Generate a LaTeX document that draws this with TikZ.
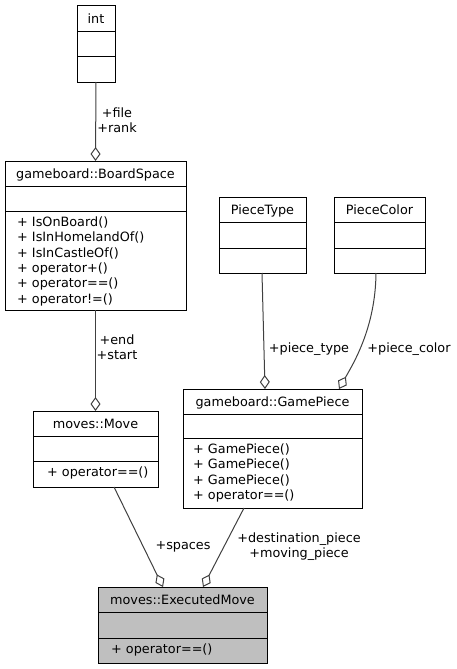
\documentclass[tikz,border=0pt]{standalone}
\usepackage{fontspec}
\setmainfont{DejaVu Sans}
\usetikzlibrary{arrows.meta}
\definecolor{edgegray}{HTML}{404040}
\definecolor{emfill}{HTML}{BFBFBF}
\newcommand\fsz{\fontsize{12.8}{15.3}\selectfont}
\tikzset{
  box/.style={draw=black, line width=1pt, inner sep=0pt, outer sep=0pt, anchor=north west},
  ttl/.style={anchor=base, inner sep=0pt, font=\fsz},
  mth/.style={anchor=base west, inner sep=0pt, font=\fsz},
  lbl/.style={inner sep=0pt, font=\fsz, align=center},
  dv/.style={draw=black, line width=1pt},
  edge/.style={draw=edgegray, line width=1pt, {Diamond[open, length=14pt, width=10pt, line width=1pt]}-}
}
\begin{document}
\begin{tikzpicture}[x=1pt, y=-1pt]
\useasboundingbox (0,0) rectangle (457,669);

% int
\node[box, minimum width=38pt, minimum height=76pt] (int) at (77,6) {};
\draw[dv] ([yshift=-26pt]int.north west) -- ([yshift=-26pt]int.north east);
\draw[dv] ([yshift=-51pt]int.north west) -- ([yshift=-51pt]int.north east);
\node[ttl] (intt) at ([yshift=-17.5pt]int.north) {int};

% BoardSpace
\node[box, minimum width=181pt, minimum height=149pt] (bs) at (5,161) {};
\draw[dv] ([yshift=-25pt]bs.north west) -- ([yshift=-25pt]bs.north east);
\draw[dv] ([yshift=-50pt]bs.north west) -- ([yshift=-50pt]bs.north east);
\node[ttl] (bst) at ([yshift=-17pt]bs.north) {gameboard::BoardSpace};
\foreach \t [count=\i from 0] in {IsOnBoard(), IsInHomelandOf(), IsInCastleOf(), operator+(), operator==(), operator!=()}
  \node[mth] (bsm\i) at ([xshift=12pt, yshift={-65.5pt-15.3pt*\i}]bs.north west) {+ \t};

% PieceType
\node[box, minimum width=87pt, minimum height=76pt] (pt) at (219,197) {};
\draw[dv] ([yshift=-25pt]pt.north west) -- ([yshift=-25pt]pt.north east);
\draw[dv] ([yshift=-51pt]pt.north west) -- ([yshift=-51pt]pt.north east);
\node[ttl] (ptt) at ([yshift=-17pt]pt.north) {PieceType};

% PieceColor
\node[box, minimum width=91pt, minimum height=76pt] (pc) at (334,197) {};
\draw[dv] ([yshift=-25pt]pc.north west) -- ([yshift=-25pt]pc.north east);
\draw[dv] ([yshift=-51pt]pc.north west) -- ([yshift=-51pt]pc.north east);
\node[ttl] (pct) at ([yshift=-17pt]pc.north) {PieceColor};

% GamePiece
\node[box, minimum width=179pt, minimum height=119pt] (gp) at (183,389) {};
\draw[dv] ([yshift=-25pt]gp.north west) -- ([yshift=-25pt]gp.north east);
\draw[dv] ([yshift=-49pt]gp.north west) -- ([yshift=-49pt]gp.north east);
\node[ttl] (gpt) at ([yshift=-17pt]gp.north) {gameboard::GamePiece};
\foreach \t [count=\i from 0] in {GamePiece(), GamePiece(), GamePiece(), operator==()}
  \node[mth] (gpm\i) at ([xshift=10pt, yshift={-64.5pt-15.3pt*\i}]gp.north west) {+ \t};

% Move
\node[box, minimum width=125pt, minimum height=76pt] (mv) at (33,411) {};
\draw[dv] ([yshift=-25pt]mv.north west) -- ([yshift=-25pt]mv.north east);
\draw[dv] ([yshift=-50pt]mv.north west) -- ([yshift=-50pt]mv.north east);
\node[ttl] (mvt) at ([yshift=-17pt]mv.north) {moves::Move};
\node[mth] (mvm) at ([xshift=14pt, yshift=-65.5pt]mv.north west) {+ operator==()};

% ExecutedMove
\node[box, fill=emfill, minimum width=169pt, minimum height=76pt] (em) at (98,587) {};
\draw[dv] ([yshift=-25pt]em.north west) -- ([yshift=-25pt]em.north east);
\draw[dv] ([yshift=-51pt]em.north west) -- ([yshift=-51pt]em.north east);
\node[ttl] (emt) at ([yshift=-17pt]em.north) {moves::ExecutedMove};
\node[mth] (emm) at ([xshift=13pt, yshift=-66.5pt]em.north west) {+ operator==()};

% edges
\draw[edge] (bs.north) -- (int.south);
\draw[edge] (mv.north -| bs.south) -- (bs.south);
\draw[edge] ([xshift=82pt]gp.north west) -- ([xshift=43pt]pt.south west);
\draw[edge] ([xshift=156pt]gp.north west) .. controls ([xshift=170pt,yshift=25pt]gp.north west) and ([xshift=-4pt,yshift=-55pt]pc.south) .. ([xshift=42pt]pc.south west);
\draw[edge] ([xshift=65pt]em.north west) -- ([xshift=81pt]mv.south west);
\draw[edge] ([xshift=105pt]em.north west) -- ([xshift=61pt]gp.south west);

% labels
\node[lbl] (l1) at (117,120) {+file\\+rank};
\node[lbl] (l2) at (117,347.5) {+end\\+start};
\node[lbl] (l3) at (309,349) {+piece\_type};
\node[lbl] (l4) at (409,349) {+piece\_color};
\node[lbl] (l5) at (183,547) {+spaces};
\node[lbl] (l6) at (299,546.5) {+destination\_piece\\+moving\_piece};
\end{tikzpicture}
\end{document}
